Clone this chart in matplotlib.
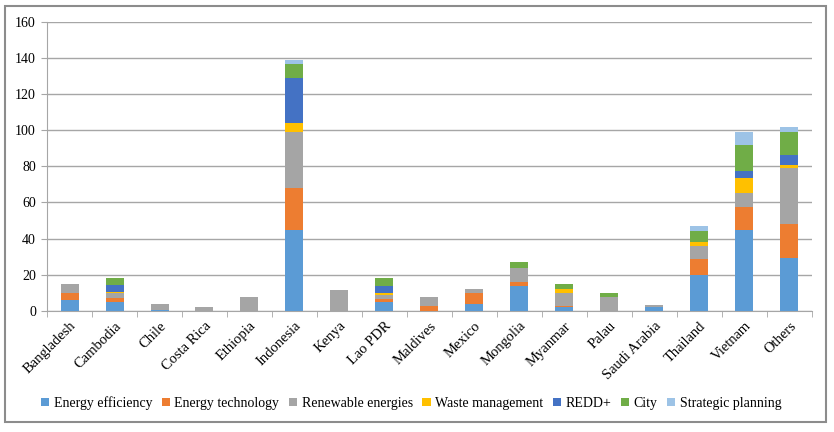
import numpy as np
import matplotlib.pyplot as plt
from matplotlib.patches import Rectangle

plt.rcParams['font.family'] = ['Liberation Serif', 'DejaVu Serif']

countries = ['Bangladesh', 'Cambodia', 'Chile', 'Costa Rica', 'Ethiopia', 'Indonesia',
             'Kenya', 'Lao PDR', 'Maldives', 'Mexico', 'Mongolia', 'Myanmar', 'Palau',
             'Saudi Arabia', 'Thailand', 'Vietnam', 'Others']

energy_eff  = [6, 5, 0.5, 0, 0, 45, 0, 5, 0, 4, 14, 2, 0, 2, 20, 45, 29.5]
energy_tech = [4, 2, 0, 0, 0, 23, 0, 1.5, 3, 6, 2, 1, 0, 0.5, 9, 12.5, 18.5]
renewable   = [5, 3, 3.5, 2.5, 7.5, 31, 11.5, 2.5, 4.5, 2, 8, 7, 7.5, 1, 7, 7.5, 31]
waste       = [0, 0.5, 0, 0, 0, 5, 0, 1, 0, 0, 0, 2, 0, 0, 2, 8.5, 2]
redd        = [0, 4, 0, 0, 0, 25, 0, 4, 0, 0, 0, 0, 0, 0, 0, 4, 5]
city        = [0, 3.5, 0, 0, 0, 7.5, 0, 4, 0, 0, 3, 3, 2.5, 0, 6, 14.5, 13]
strategic   = [0, 0, 0, 0, 0, 2.5, 0, 0.5, 0, 0, 0, 0, 0, 0, 3, 7, 3]

series = [
    ('Energy efficiency', energy_eff, '#5B9BD5'),
    ('Energy technology', energy_tech, '#ED7D31'),
    ('Renewable energies', renewable, '#A5A5A5'),
    ('Waste management', waste, '#FFC000'),
    ('REDD+', redd, '#4472C4'),
    ('City', city, '#70AD47'),
    ('Strategic planning', strategic, '#9DC3E6'),
]

fig = plt.figure(figsize=(8.34, 4.32), dpi=100)
ax = fig.add_axes([0.0564, 0.280, 0.917, 0.670])

x = np.arange(len(countries))
bottom = np.zeros(len(countries))
for name, vals, col in series:
    vals = np.array(vals, dtype=float)
    ax.bar(x, vals, 0.4, bottom=bottom, color=col, label=name, zorder=3)
    bottom += vals

ax.set_ylim(0, 160)
ax.set_xlim(-0.5, len(countries) - 0.5)
ax.set_yticks(np.arange(0, 161, 20))
ax.yaxis.grid(True, color='#A6A6A6', lw=1, zorder=0)
for s in ['top', 'right']:
    ax.spines[s].set_visible(False)
ax.spines['left'].set_color('#A6A6A6')
ax.spines['bottom'].set_color('#A6A6A6')
ax.tick_params(axis='y', length=4, color='#A6A6A6', labelsize=10, pad=4)

ax.set_xticks(x)
ax.set_xticklabels(countries, rotation=45, ha='right', rotation_mode='anchor', fontsize=10.5)
ax.tick_params(axis='x', which='major', length=0, pad=6)
ax.set_xticks(np.arange(-0.5, len(countries), 1), minor=True)
ax.tick_params(axis='x', which='minor', length=4, color='#A6A6A6')

fig.legend(loc='center', bbox_to_anchor=(0.493, 0.067), ncol=7, frameon=False,
           fontsize=10, handlelength=0.6, handleheight=0.6, handletextpad=0.3,
           columnspacing=0.7)

fig.patches.append(Rectangle((5 / 834, 10 / 432), 821 / 834, 416 / 432,
                             transform=fig.transFigure, fill=False,
                             edgecolor='#8C8C8C', lw=1.5))

fig.savefig('out.png', dpi=100)
